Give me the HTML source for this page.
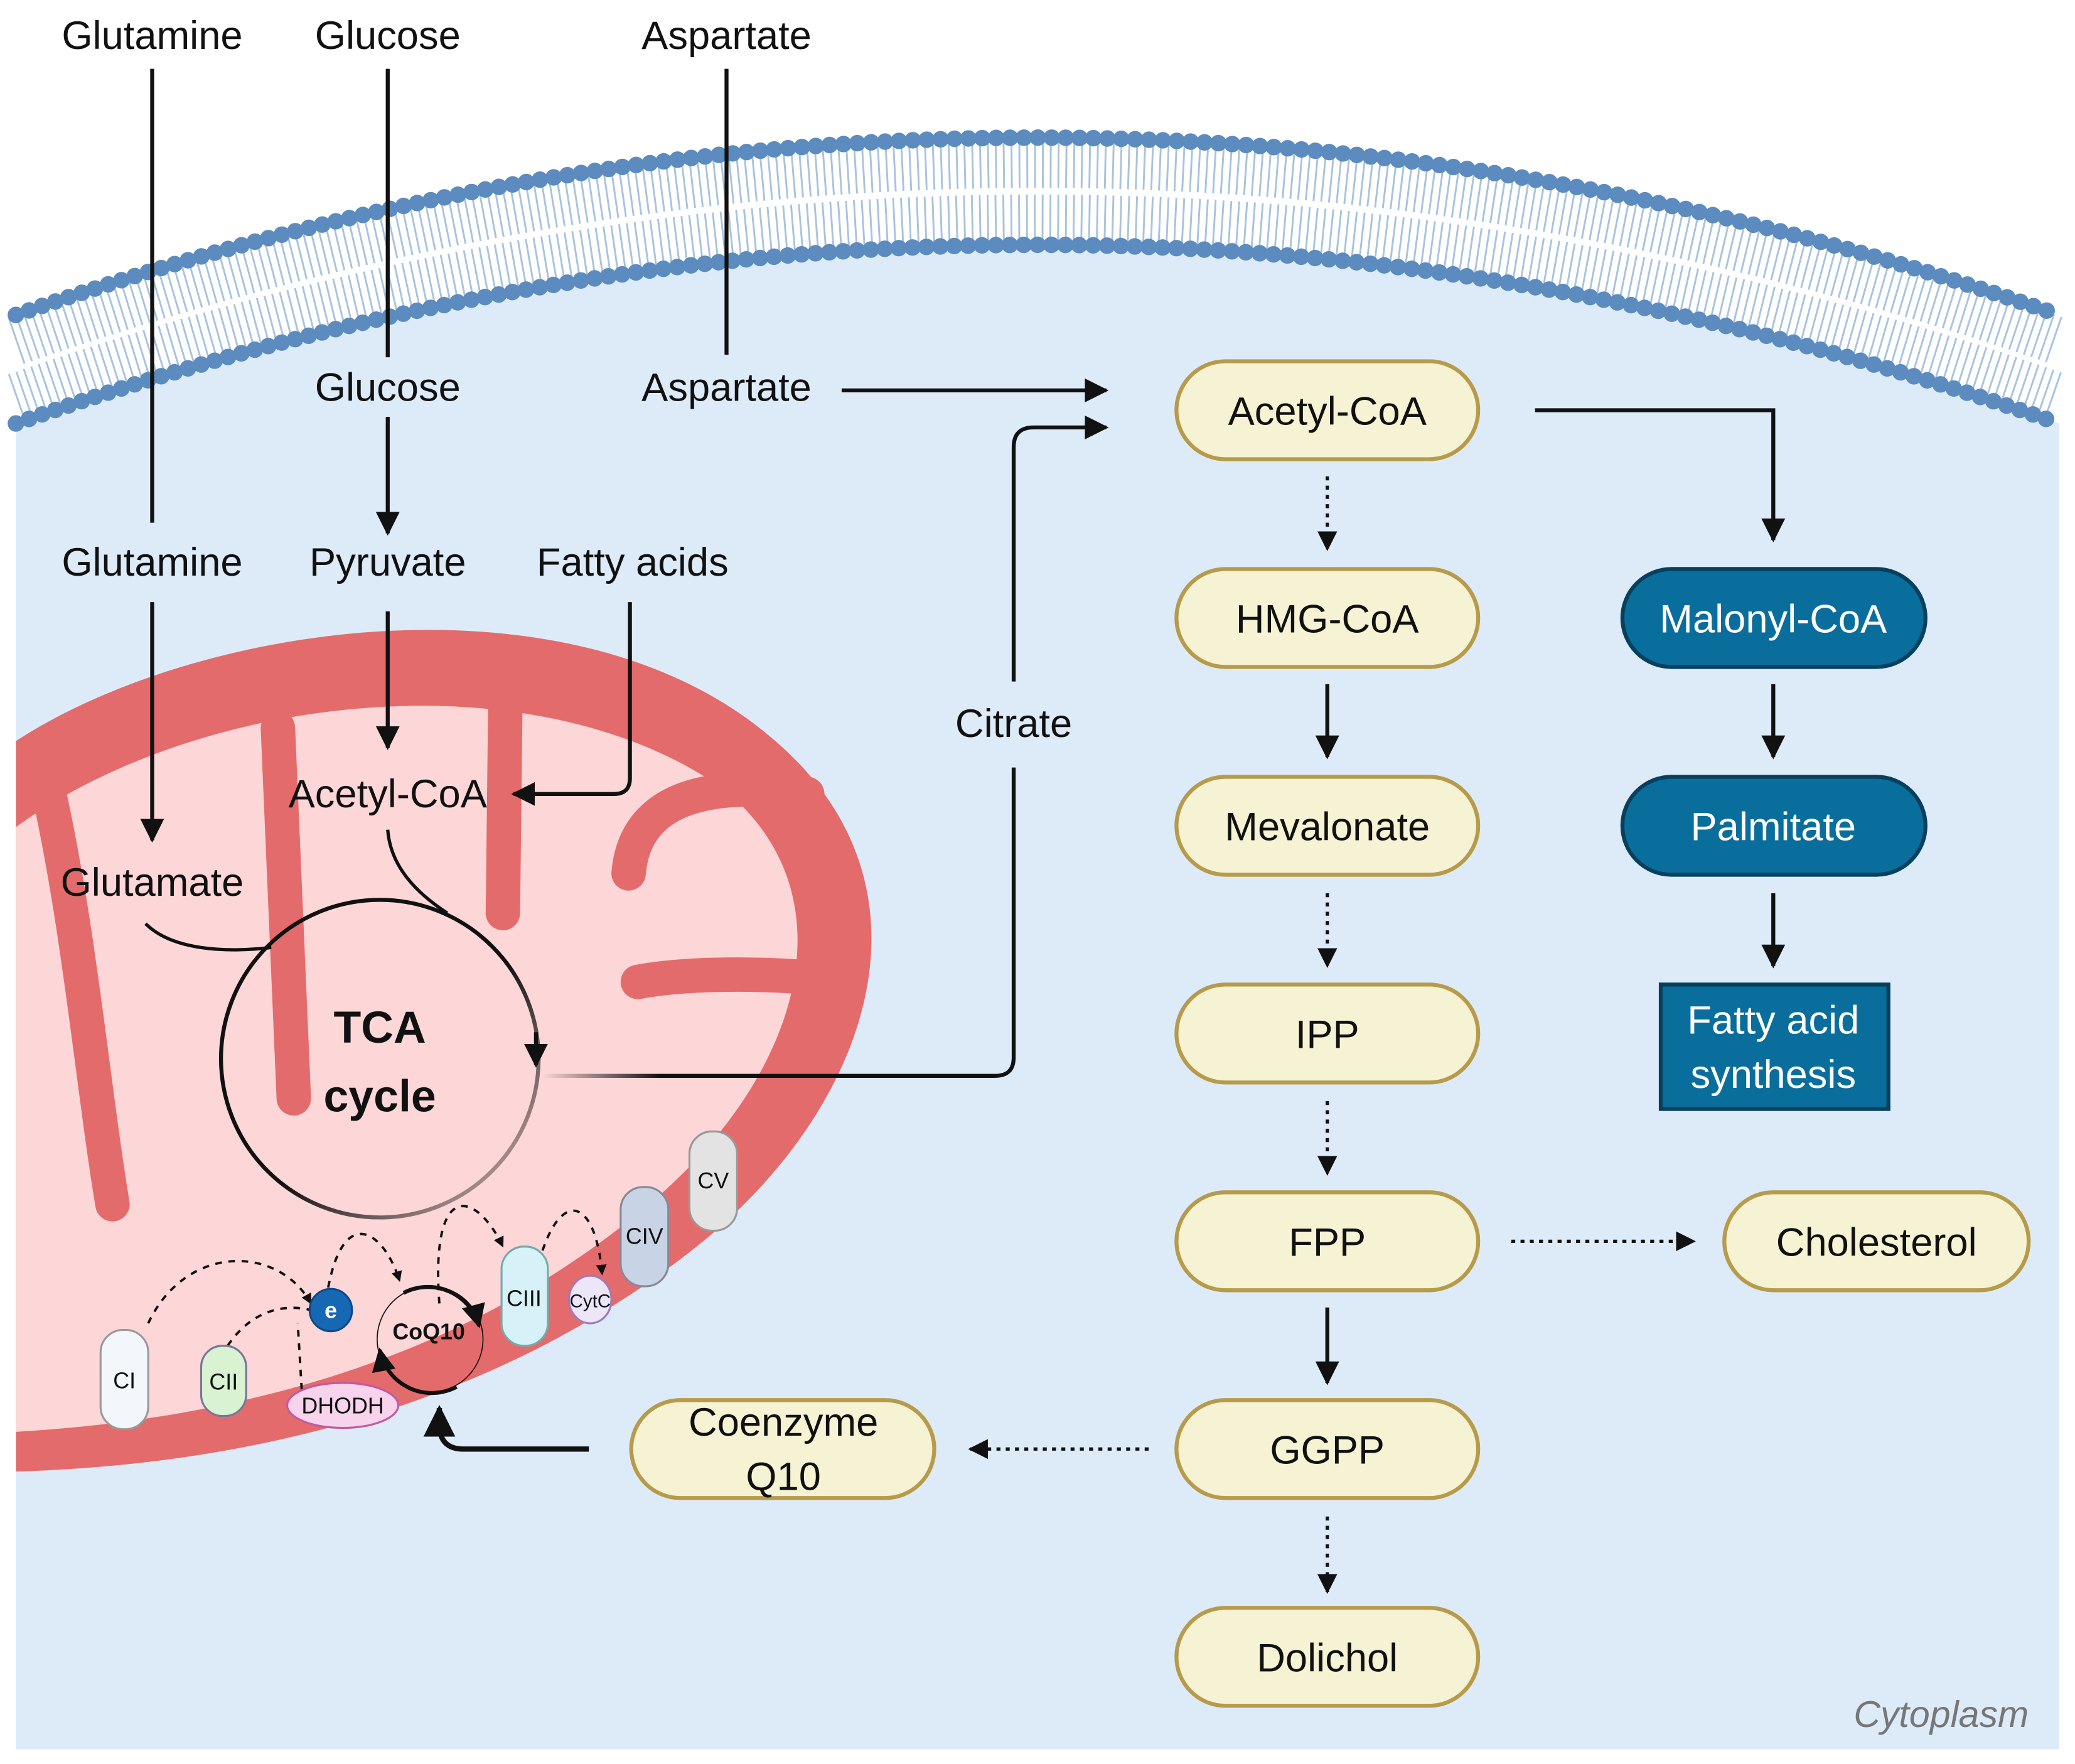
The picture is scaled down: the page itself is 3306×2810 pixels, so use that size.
<!DOCTYPE html>
<html><head><meta charset="utf-8"><style>
html,body{margin:0;padding:0;background:#fff;}
svg{display:block;}
text{font-family:"Liberation Sans",sans-serif;}
</style></head><body>
<svg width="3306" height="2810" viewBox="0 0 1568 1333" preserveAspectRatio="none" xmlns="http://www.w3.org/2000/svg">
<defs>
<marker id="ah" viewBox="0 0 10 10" refX="9" refY="5" markerWidth="4.5" markerHeight="4.5" orient="auto"><path d="M0,0 L10,5 L0,10 z" fill="#111"/></marker>
<marker id="ahs" viewBox="0 0 10 10" refX="9" refY="5" markerWidth="6" markerHeight="6" orient="auto"><path d="M0,0 L10,5 L0,10 z" fill="#111"/></marker>
<linearGradient id="tcafade" x1="0" y1="0" x2="1" y2="1"><stop offset="0.55" stop-color="#111"/><stop offset="1" stop-color="#e8c0c0"/></linearGradient>
<linearGradient id="citfade" x1="0" y1="0" x2="1" y2="0"><stop offset="0" stop-color="#111" stop-opacity="0"/><stop offset="0.25" stop-color="#111"/></linearGradient>
</defs>
<rect x="0" y="0" width="1568" height="1333" fill="#fff"/>
<path d="M12,320 Q784,50 1556,320 L1556,1322 L12,1322 Z" fill="#ddebf9"/>
<path d="M12,279 Q784,10 1556,279" fill="none" stroke="#fff" stroke-width="82"/>
<path d="M12,258 Q784,-10 1556,258" fill="none" stroke="#a9c3df" stroke-width="36" stroke-dasharray="1.4 4.5"/>
<path d="M12,300 Q784,30 1556,300" fill="none" stroke="#a9c3df" stroke-width="36" stroke-dasharray="1.4 4.5"/>
<path d="M12,238 Q784,-30 1556,238" fill="none" stroke="#5b8bbf" stroke-width="12.5" stroke-linecap="round" stroke-dasharray="0 10.5"/>
<path d="M12,320 Q784,50 1556,320" fill="none" stroke="#5b8bbf" stroke-width="12.5" stroke-linecap="round" stroke-dasharray="0 10.5"/>
<path d="M12,560 C150,470 430,430 580,555 C715,665 660,830 535,935 C420,1030 250,1105 12,1112 Z" fill="#e46b6b"/>
<path d="M12,625 C150,525 400,495 545,595 C640,670 612,800 502,900 C400,990 250,1068 12,1082 Z" fill="#fdd6d8"/>
<g stroke="#e46b6b" stroke-width="26" stroke-linecap="round" fill="none">
<path d="M210,550 L222,830"/>
<path d="M382,520 L380,690"/>
<path d="M35,590 C60,700 70,820 85,910"/>
<path d="M610,600 C540,590 480,600 475,660"/>
<path d="M625,740 C580,735 520,735 482,742"/>
</g>
<circle cx="287" cy="800" r="120" fill="none" stroke="url(#tcafade)" stroke-width="3"/>
<path d="M405,780 L405,805" stroke="#111" stroke-width="3" marker-end="url(#ahs)"/>
<text x="287" y="788" font-size="34" font-weight="bold" text-anchor="middle" fill="#111">TCA</text>
<text x="287" y="840" font-size="34" font-weight="bold" text-anchor="middle" fill="#111">cycle</text>
<path d="M110,698 C130,718 170,720 205,716" stroke="#111" stroke-width="2.5" fill="none"/>
<path d="M293,627 C295,655 315,675 338,690" stroke="#111" stroke-width="2.5" fill="none"/>
<g font-size="30" fill="#111" text-anchor="middle">
<text x="115" y="37">Glutamine</text>
<text x="293" y="37">Glucose</text>
<text x="549" y="37">Aspartate</text>
<text x="293" y="303">Glucose</text>
<text x="549" y="303">Aspartate</text>
<text x="115" y="435">Glutamine</text>
<text x="293" y="435">Pyruvate</text>
<text x="478" y="435">Fatty acids</text>
<text x="293" y="610">Acetyl-CoA</text>
<text x="115" y="677">Glutamate</text>
<text x="766" y="557">Citrate</text>
</g>
<g stroke="#111" stroke-width="3" fill="none">
<line x1="115" y1="52" x2="115" y2="395"/>
<line x1="115" y1="455" x2="115" y2="635" marker-end="url(#ahs)"/>
<line x1="293" y1="52" x2="293" y2="270"/>
<line x1="293" y1="315" x2="293" y2="403" marker-end="url(#ahs)"/>
<line x1="293" y1="462" x2="293" y2="565" marker-end="url(#ahs)"/>
<line x1="549" y1="52" x2="549" y2="268"/>
<path d="M476,455 L476,588 Q476,600 464,600 L388,600" marker-end="url(#ahs)"/>
<line x1="636" y1="295" x2="836" y2="295" marker-end="url(#ahs)"/>
<path d="M766,515 L766,338 Q766,323 781,323 L836,323" marker-end="url(#ahs)"/>
<path d="M410,813 L752,813 Q766,813 766,799 L766,580" stroke="url(#citfade)"/>
<path d="M1160,310 L1340,310 L1340,408" marker-end="url(#ahs)"/>
<line x1="1003" y1="517" x2="1003" y2="572" marker-end="url(#ahs)"/>
<line x1="1003" y1="988" x2="1003" y2="1045" marker-end="url(#ahs)"/>
<line x1="1340" y1="517" x2="1340" y2="572" marker-end="url(#ahs)"/>
<line x1="1340" y1="675" x2="1340" y2="730" marker-end="url(#ahs)"/>
<path d="M445,1095 L350,1095 Q333,1095 332,1078 L332,1064" stroke-width="4" marker-end="url(#ahs)"/>
</g>
<g stroke="#111" stroke-width="2.5" fill="none" stroke-dasharray="3 4">
<line x1="1003" y1="360" x2="1003" y2="415" marker-end="url(#ahs)"/>
<line x1="1003" y1="675" x2="1003" y2="730" marker-end="url(#ahs)"/>
<line x1="1003" y1="832" x2="1003" y2="887" marker-end="url(#ahs)"/>
<line x1="1003" y1="1146" x2="1003" y2="1203" marker-end="url(#ahs)"/>
<line x1="1142" y1="938" x2="1280" y2="938" marker-end="url(#ahs)"/>
<line x1="868" y1="1095" x2="733" y2="1095" marker-end="url(#ahs)"/>
</g>
<g fill="#f6f2d4" stroke="#b79b4a" stroke-width="3">
<rect x="889" y="273" width="228" height="74" rx="37"/>
<rect x="889" y="430" width="228" height="74" rx="37"/>
<rect x="889" y="587" width="228" height="74" rx="37"/>
<rect x="889" y="744" width="228" height="74" rx="37"/>
<rect x="889" y="901" width="228" height="74" rx="37"/>
<rect x="889" y="1058" width="228" height="74" rx="37"/>
<rect x="889" y="1215" width="228" height="74" rx="37"/>
<rect x="1303" y="901" width="230" height="74" rx="37"/>
<rect x="477" y="1058" width="229" height="74" rx="37"/>
</g>
<g fill="#0a6e9c" stroke="#06405e" stroke-width="3">
<rect x="1226" y="430" width="229" height="74" rx="37"/>
<rect x="1226" y="587" width="229" height="74" rx="37"/>
<rect x="1255" y="744" width="172" height="94"/>
</g>
<g font-size="30" fill="#111" text-anchor="middle">
<text x="1003" y="321">Acetyl-CoA</text>
<text x="1003" y="478">HMG-CoA</text>
<text x="1003" y="635">Mevalonate</text>
<text x="1003" y="792">IPP</text>
<text x="1003" y="949">FPP</text>
<text x="1003" y="1106">GGPP</text>
<text x="1003" y="1263">Dolichol</text>
<text x="1418" y="949">Cholesterol</text>
<text x="592" y="1085">Coenzyme</text>
<text x="592" y="1126">Q10</text>
</g>
<g font-size="30" fill="#fff" text-anchor="middle">
<text x="1340" y="478">Malonyl-CoA</text>
<text x="1340" y="635">Palmitate</text>
<text x="1340" y="781">Fatty acid</text>
<text x="1340" y="822">synthesis</text>
</g>
<text x="1533" y="1305" font-size="28" font-style="italic" fill="#777" text-anchor="end">Cytoplasm</text>
<g stroke="#111" stroke-width="1.8" fill="none" stroke-dasharray="5 5">
<path d="M112,1000 C140,940 210,940 235,985" marker-end="url(#ah)"/>
<path d="M172,1017 C190,990 215,985 235,990"/>
<path d="M228,1050 L225,1000"/>
<path d="M248,973 C260,910 290,930 302,968" marker-end="url(#ah)"/>
<path d="M332,985 C325,890 360,900 380,942" marker-end="url(#ah)"/>
<path d="M410,945 C425,900 450,905 455,963" marker-end="url(#ah)"/>
</g>
<g stroke-width="1.5">
<rect x="76" y="1005" width="36" height="75" rx="17" fill="#f3f7fc" stroke="#999"/>
<rect x="152" y="1017" width="34" height="53" rx="16" fill="#d8f2d2" stroke="#779"/>
<ellipse cx="259" cy="1062" rx="42" ry="17" fill="#f7d3ec" stroke="#c05aa0"/>
<circle cx="250" cy="990" r="16" fill="#1668b5" stroke="#0d4a86"/>
<rect x="379" y="942" width="35" height="75" rx="17" fill="#d6f2f8" stroke="#7aa"/>
<ellipse cx="446" cy="982" rx="16" ry="18" fill="#ece6f8" stroke="#a07ab8"/>
<rect x="469" y="897" width="36" height="75" rx="17" fill="#c9d3e6" stroke="#889"/>
<rect x="521" y="855" width="36" height="75" rx="17" fill="#e3e3e3" stroke="#999"/>
</g>
<circle cx="325" cy="1012" r="40" fill="none" stroke="#111" stroke-width="0.8"/>
<path d="M305,977 A40,40 0 0 1 362,1002" stroke="#111" stroke-width="3" fill="none" marker-end="url(#ahs)"/>
<path d="M345,1048 A40,40 0 0 1 287,1020" stroke="#111" stroke-width="3" fill="none" marker-end="url(#ahs)"/>
<g font-size="17" fill="#111" text-anchor="middle">
<text x="94" y="1049">CI</text>
<text x="169" y="1050">CII</text>
<text x="259" y="1068">DHODH</text>
<text x="250" y="996" fill="#fff" font-weight="bold">e</text>
<text x="324" y="1012" font-weight="bold">CoQ10</text>
<text x="396" y="987">CIII</text>
<text x="446" y="988" font-size="14">CytC</text>
<text x="487" y="940">CIV</text>
<text x="539" y="898">CV</text>
</g>
</svg>
</body></html>
